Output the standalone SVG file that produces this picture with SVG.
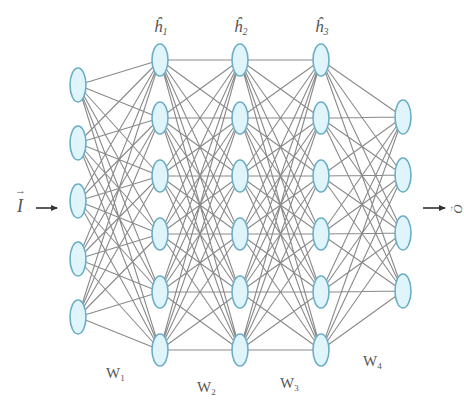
<svg xmlns="http://www.w3.org/2000/svg" width="464" height="402" viewBox="0 0 464 402">
<style>
.n{fill:#e0f5fb;stroke:#6aaec6;stroke-width:1.6}
.c{fill:none;stroke:#8a8a8a;stroke-width:1.1}
.t{font-family:"Liberation Serif",serif;fill:#555}
</style>
<defs>
<marker id="ah" markerWidth="8" markerHeight="8" refX="6" refY="4" orient="auto" markerUnits="userSpaceOnUse">
<path d="M0,1 L7,4 L0,7 Z" fill="#333"/>
</marker>
</defs>
<rect width="464" height="402" fill="#ffffff"/>
<g id="connectors" class="c">
<path d="M78 85L160 60M78 85L160 118M78 85L160 176M78 85L160 234M78 85L160 292M78 85L160 350M78 143L160 60M78 143L160 118M78 143L160 176M78 143L160 234M78 143L160 292M78 143L160 350M78 201L160 60M78 201L160 118M78 201L160 176M78 201L160 234M78 201L160 292M78 201L160 350M78 259L160 60M78 259L160 118M78 259L160 176M78 259L160 234M78 259L160 292M78 259L160 350M78 317L160 60M78 317L160 118M78 317L160 176M78 317L160 234M78 317L160 292M78 317L160 350"/>
<path d="M160 60L240 60M160 60L240 118M160 60L240 176M160 60L240 234M160 60L240 292M160 60L240 350M160 118L240 60M160 118L240 118M160 118L240 176M160 118L240 234M160 118L240 292M160 118L240 350M160 176L240 60M160 176L240 118M160 176L240 176M160 176L240 234M160 176L240 292M160 176L240 350M160 234L240 60M160 234L240 118M160 234L240 176M160 234L240 234M160 234L240 292M160 234L240 350M160 292L240 60M160 292L240 118M160 292L240 176M160 292L240 234M160 292L240 292M160 292L240 350M160 350L240 60M160 350L240 118M160 350L240 176M160 350L240 234M160 350L240 292M160 350L240 350"/>
<path d="M240 60L321 60M240 60L321 118M240 60L321 176M240 60L321 234M240 60L321 292M240 60L321 350M240 118L321 60M240 118L321 118M240 118L321 176M240 118L321 234M240 118L321 292M240 118L321 350M240 176L321 60M240 176L321 118M240 176L321 176M240 176L321 234M240 176L321 292M240 176L321 350M240 234L321 60M240 234L321 118M240 234L321 176M240 234L321 234M240 234L321 292M240 234L321 350M240 292L321 60M240 292L321 118M240 292L321 176M240 292L321 234M240 292L321 292M240 292L321 350M240 350L321 60M240 350L321 118M240 350L321 176M240 350L321 234M240 350L321 292M240 350L321 350"/>
<path d="M321 60L403 117M321 60L403 175M321 60L403 233M321 60L403 291M321 118L403 117M321 118L403 175M321 118L403 233M321 118L403 291M321 176L403 117M321 176L403 175M321 176L403 233M321 176L403 291M321 234L403 117M321 234L403 175M321 234L403 233M321 234L403 291M321 292L403 117M321 292L403 175M321 292L403 233M321 292L403 291M321 350L403 117M321 350L403 175M321 350L403 233M321 350L403 291"/>
<line x1="36" y1="208" x2="57" y2="208" stroke="#333" stroke-width="1.6" marker-end="url(#ah)"/>
<line x1="423" y1="208" x2="445" y2="208" stroke="#333" stroke-width="1.6" marker-end="url(#ah)"/>
</g>
<g id="input">
<ellipse class="n" cx="78" cy="85" rx="8" ry="17"/>
<ellipse class="n" cx="78" cy="143" rx="8" ry="17"/>
<ellipse class="n" cx="78" cy="201" rx="8" ry="17"/>
<ellipse class="n" cx="78" cy="259" rx="8" ry="17"/>
<ellipse class="n" cx="78" cy="317" rx="8" ry="17"/>
</g>
<g id="hidden1">
<ellipse class="n" cx="160" cy="60" rx="8" ry="16"/>
<ellipse class="n" cx="160" cy="118" rx="8" ry="16"/>
<ellipse class="n" cx="160" cy="176" rx="8" ry="16"/>
<ellipse class="n" cx="160" cy="234" rx="8" ry="16"/>
<ellipse class="n" cx="160" cy="292" rx="8" ry="16"/>
<ellipse class="n" cx="160" cy="350" rx="8" ry="16"/>
</g>
<g id="hidden2">
<ellipse class="n" cx="240" cy="60" rx="8" ry="16"/>
<ellipse class="n" cx="240" cy="118" rx="8" ry="16"/>
<ellipse class="n" cx="240" cy="176" rx="8" ry="16"/>
<ellipse class="n" cx="240" cy="234" rx="8" ry="16"/>
<ellipse class="n" cx="240" cy="292" rx="8" ry="16"/>
<ellipse class="n" cx="240" cy="350" rx="8" ry="16"/>
</g>
<g id="hidden3">
<ellipse class="n" cx="321" cy="60" rx="8" ry="16"/>
<ellipse class="n" cx="321" cy="118" rx="8" ry="16"/>
<ellipse class="n" cx="321" cy="176" rx="8" ry="16"/>
<ellipse class="n" cx="321" cy="234" rx="8" ry="16"/>
<ellipse class="n" cx="321" cy="292" rx="8" ry="16"/>
<ellipse class="n" cx="321" cy="350" rx="8" ry="16"/>
</g>
<g id="output">
<ellipse class="n" cx="403" cy="117" rx="8" ry="17"/>
<ellipse class="n" cx="403" cy="175" rx="8" ry="17"/>
<ellipse class="n" cx="403" cy="233" rx="8" ry="17"/>
<ellipse class="n" cx="403" cy="291" rx="8" ry="17"/>
</g>
<g id="labels" class="t">
<text x="154" y="32" font-size="17" font-style="italic">ĥ<tspan font-size="10" dy="3">1</tspan></text>
<text x="234" y="32" font-size="17" font-style="italic">ĥ<tspan font-size="10" dy="3">2</tspan></text>
<text x="315" y="32" font-size="17" font-style="italic">ĥ<tspan font-size="10" dy="3">3</tspan></text>
<text x="17" y="212" font-size="18" font-style="italic">I</text>
<text x="15" y="194" font-size="11">→</text>
<text transform="translate(462,209) rotate(-90)" font-size="13" font-style="italic" text-anchor="middle">O</text>
<text transform="translate(453,209) rotate(-90)" font-size="8" text-anchor="middle">→</text>
<text x="106" y="378" font-size="15">W<tspan font-size="9" dy="3">1</tspan></text>
<text x="197" y="392" font-size="15">W<tspan font-size="9" dy="3">2</tspan></text>
<text x="280" y="388" font-size="15">W<tspan font-size="9" dy="3">3</tspan></text>
<text x="363" y="366" font-size="15">W<tspan font-size="9" dy="3">4</tspan></text>
</g>
</svg>
